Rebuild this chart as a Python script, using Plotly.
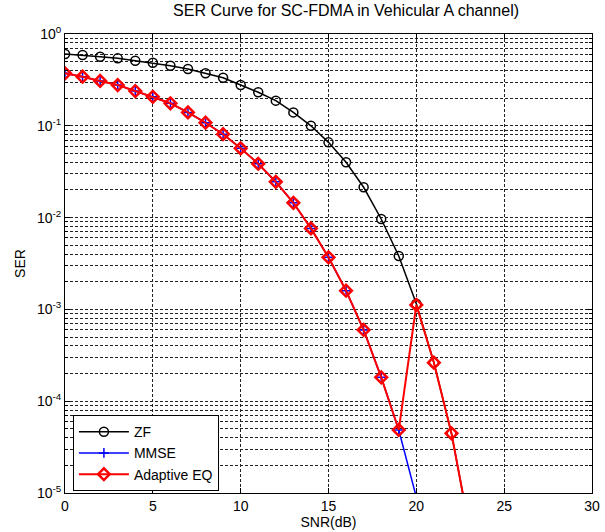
import plotly.graph_objects as go

snr_zf = list(range(0, 24))
ser_zf = [0.605, 0.59, 0.566, 0.543, 0.512, 0.487, 0.451, 0.416, 0.373, 0.334,
          0.278, 0.232, 0.188, 0.140, 0.100, 0.066, 0.040, 0.0214, 0.00966, 0.00382,
          0.00115, 0.000263, 0.0000447, 0.0000043]

snr_mmse = list(range(0, 21))
ser_mmse = [0.373, 0.343, 0.308, 0.278, 0.239, 0.207, 0.176, 0.140, 0.108, 0.081,
            0.0569, 0.0386, 0.0245, 0.0145, 0.00763, 0.00369, 0.0016, 0.000597, 0.000182, 0.0000486,
            0.0000090]

snr_ad = list(range(0, 24))
ser_ad = [0.373, 0.343, 0.308, 0.278, 0.239, 0.207, 0.176, 0.140, 0.108, 0.081,
          0.0569, 0.0386, 0.0245, 0.0145, 0.00763, 0.00369, 0.0016, 0.000597, 0.000182, 0.0000486,
          0.00112, 0.000263, 0.0000447, 0.0000043]

y_tickvals = [1e-5, 1e-4, 1e-3, 1e-2, 1e-1, 1]
y_ticktext = ["10<sup>-5</sup>", "10<sup>-4</sup>", "10<sup>-3</sup>",
              "10<sup>-2</sup>", "10<sup>-1</sup>", "10<sup>0</sup>"]
x_tickvals = [0, 5, 10, 15, 20, 25, 30]

FONT = "Liberation Sans, Arial, sans-serif"

fig = go.Figure()
fig.add_trace(go.Scatter(
    x=snr_zf, y=ser_zf, name="ZF", mode="lines+markers",
    line=dict(color="black", width=1.5),
    marker=dict(symbol="circle-open", size=9, color="black", line=dict(width=1.5)),
))
fig.add_trace(go.Scatter(
    x=snr_mmse, y=ser_mmse, name="MMSE", mode="lines+markers",
    line=dict(color="blue", width=1.5),
    marker=dict(symbol="cross-thin-open", size=7, color="blue", line=dict(width=1.5, color="blue")),
))
fig.add_trace(go.Scatter(
    x=snr_ad, y=ser_ad, name="Adaptive EQ", mode="lines+markers",
    line=dict(color="red", width=2),
    marker=dict(symbol="diamond-open", size=9, color="red", line=dict(width=2.5, color="red")),
))

grid_common = dict(gridcolor="#222222", griddash="3px,2px", gridwidth=0.9)

fig.update_layout(
    width=605, height=532,
    paper_bgcolor="white", plot_bgcolor="white",
    margin=dict(l=65, r=13, t=34, b=39),
    font=dict(family=FONT, size=14, color="black"),
    title=dict(text="SER Curve for SC-FDMA in Vehicular A channel)", x=0.572, xanchor="center",
               y=0.981, yanchor="middle", font=dict(size=16, family=FONT)),
    showlegend=True,
    legend=dict(x=0.015, y=0.004, xanchor="left", yanchor="bottom",
                bgcolor="white", bordercolor="black", borderwidth=1,
                font=dict(size=14, family=FONT), tracegroupgap=0, itemwidth=50),
    xaxis=dict(range=[0, 30], tickmode="array", tickvals=x_tickvals, automargin=False,
               showline=True, linecolor="black", linewidth=1, mirror="ticks",
               ticks="inside", ticklen=5, tickcolor="black",
               showgrid=True, zeroline=False,
               title=dict(text="SNR(dB)", standoff=0, font=dict(size=14)),
               **grid_common),
    yaxis=dict(type="log", range=[-5, 0], tickmode="array", automargin=False,
               tickvals=y_tickvals, ticktext=y_ticktext,
               showline=True, linecolor="black", linewidth=1, mirror="ticks",
               ticks="inside", ticklen=5, tickcolor="black",
               showgrid=True, zeroline=False,
               title=dict(text="SER", standoff=8, font=dict(size=14)),
               minor=dict(dtick="D1", showgrid=True, ticks="inside", ticklen=3,
                          tickcolor="black", **grid_common),
               **grid_common),
)

fig.write_html("out.html", config={"displayModeBar": False},
               post_script="document.body.style.margin='0';document.body.style.padding='0';")
